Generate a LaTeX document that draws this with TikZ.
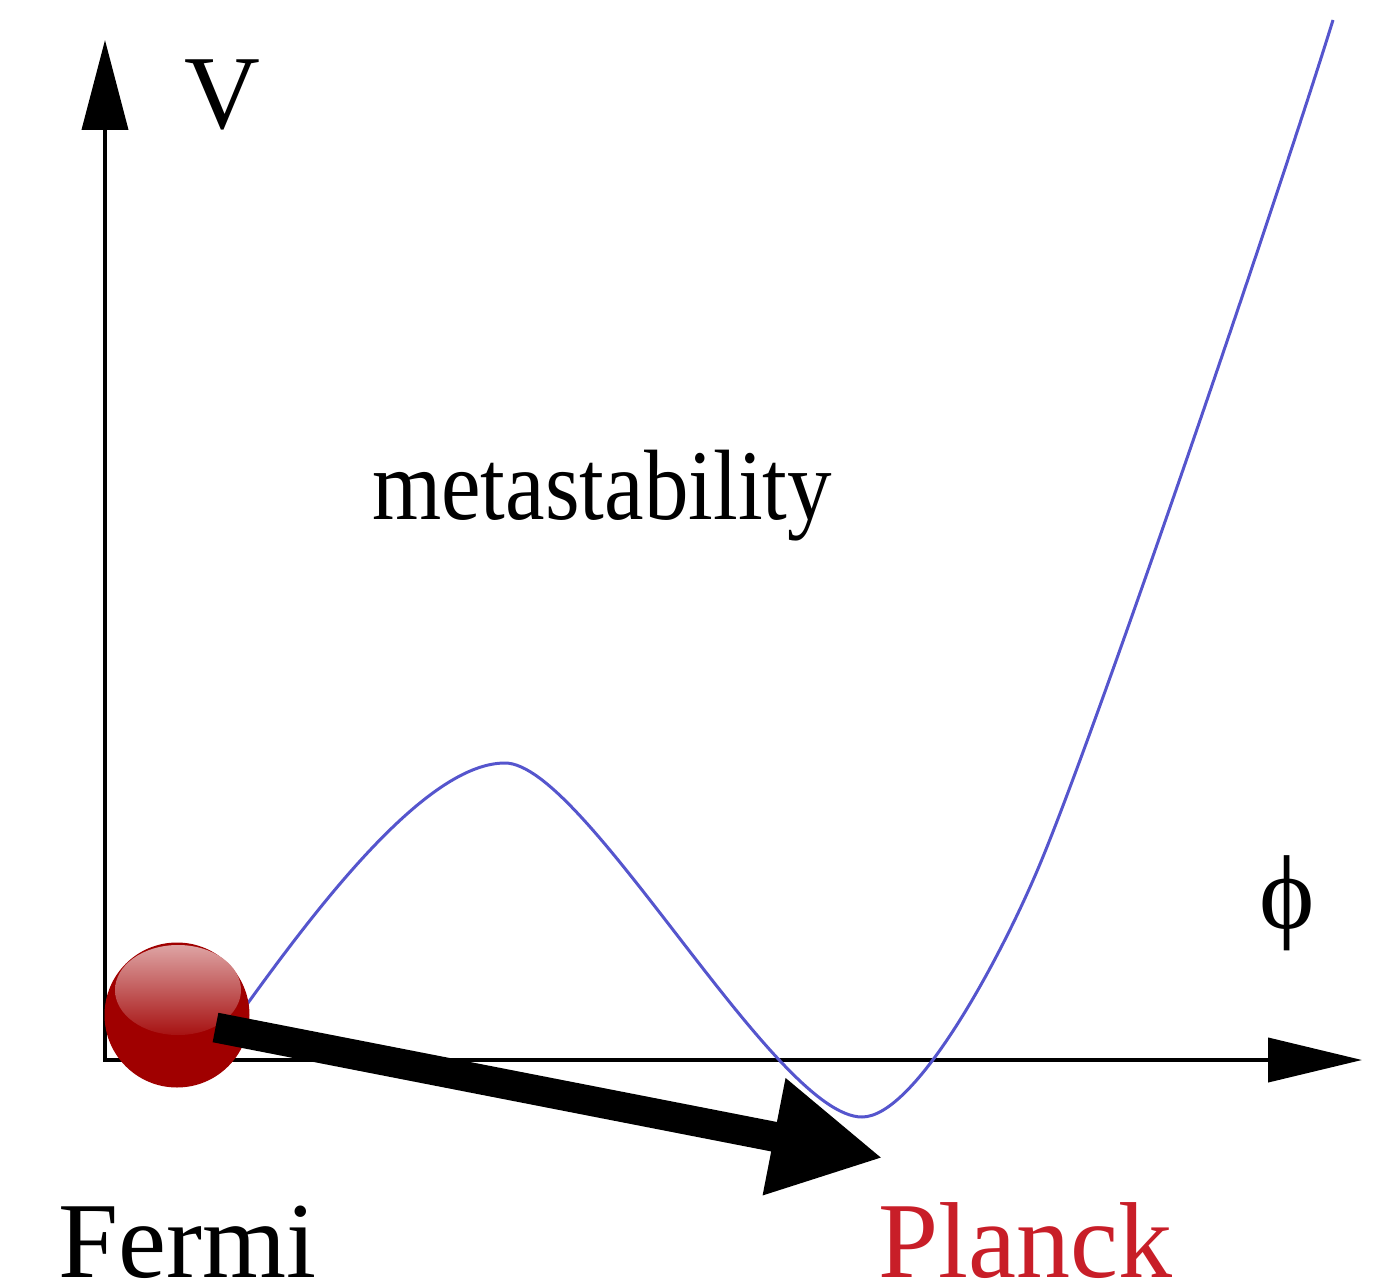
\documentclass[tikz,border=0pt]{standalone}
\usepackage{fontspec}
\setmainfont{Liberation Serif}
\usepackage{graphicx}
\usetikzlibrary{arrows.meta}
\definecolor{curveblue}{RGB}{85,85,205}
\definecolor{ballred}{RGB}{160,0,0}
\definecolor{ballhi}{RGB}{222,165,165}
\definecolor{planckred}{RGB}{200,30,40}
\tikzset{
  axis/.style={line width=4pt,black,{Triangle[length=90pt,width=46pt]}-{Triangle[length=94pt,width=44pt]}},
  potential/.style={line width=3pt,curveblue},
  bigarrow/.style={line width=30pt,black,-{Triangle[length=111pt,width=111pt]}},
  lbl/.style={inner sep=0pt,anchor=base west},
}
\begin{document}
\begin{tikzpicture}[x=1pt,y=-1pt]
\useasboundingbox (0,0) rectangle (1384,1287);
% axes
\coordinate (ytip) at (105,40);
\coordinate (origin) at (105,1060);
\coordinate (xtip) at (1362,1060);
\draw[axis] (ytip) -- (origin) -- (xtip);
% potential curve
\coordinate (p0) at (225,1035);
\coordinate (pmax) at (505,763);
\coordinate (pmin) at (862,1117);
\coordinate (pmid) at (1040,864);
\coordinate (pend) at (1333,20);
\draw[potential] (p0) .. controls (300,930) and (420,763) .. (pmax)
  .. controls (585,763) and (775,1117) .. (pmin)
  .. controls (915,1117) and (1000,960) .. (pmid)
  .. controls (1100,720) and (1283,182) .. (pend);
% ball
\node[circle,fill=ballred,minimum size=145pt,inner sep=0pt] (ball) at (177,1015) {};
\begin{scope}
  \clip (178,990) ellipse [x radius=63, y radius=45];
  \shade[top color=ballhi,bottom color=ballred!90!ballhi] (114,944) rectangle (242,1036);
\end{scope}
% arrow
\coordinate (astart) at (215.5,1027.5);
\coordinate (aend) at (883,1158);
\draw[bigarrow] (astart) -- (aend);
% labels
\node[lbl,font=\fontsize{105pt}{105pt}\selectfont] (V) at (184,129) {V};
\node[lbl,font=\fontsize{100pt}{100pt}\selectfont] (meta) at (372,519) {\scalebox{0.89}[1]{metastability}};
\node[inner sep=0pt,font=\fontsize{105pt}{105pt}\selectfont] (phi) at (1287,903) {ϕ};
\node[lbl,font=\fontsize{108pt}{108pt}\selectfont] (fermi) at (58,1277) {Fermi};
\node[lbl,font=\fontsize{108pt}{108pt}\selectfont,text=planckred] (planck) at (878,1277) {Planck};
\end{tikzpicture}
\end{document}
